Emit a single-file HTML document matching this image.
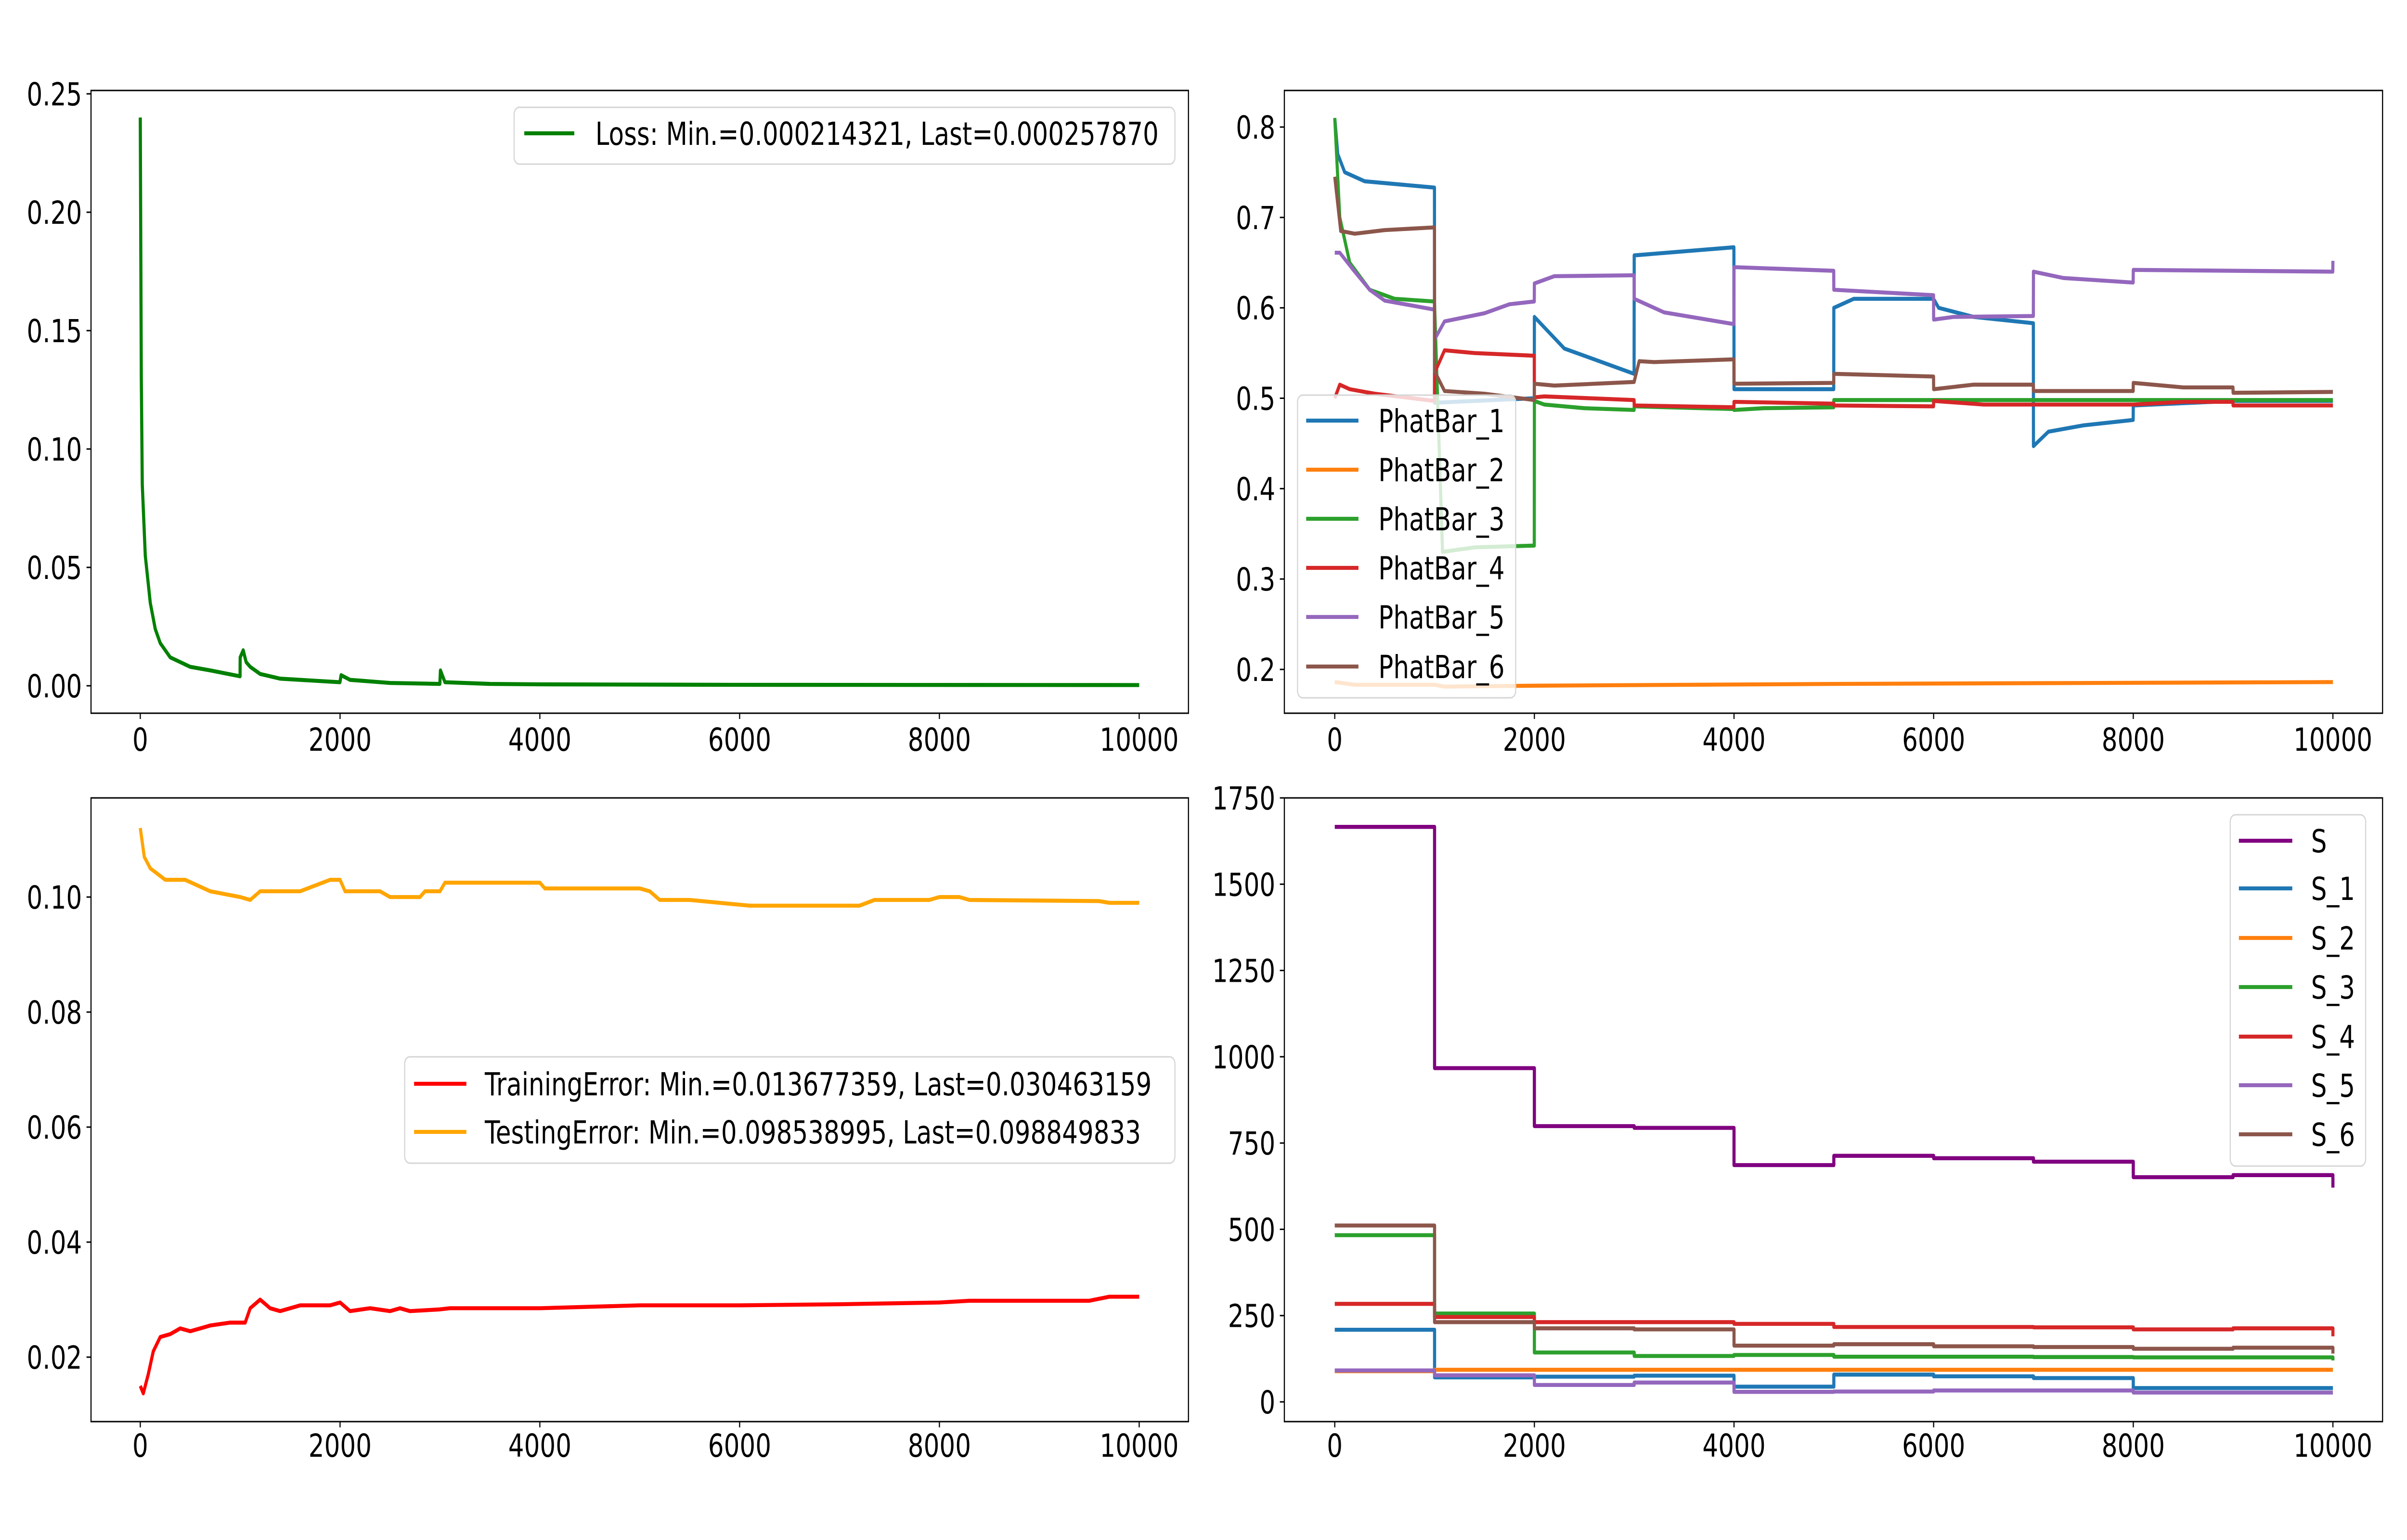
<!DOCTYPE html>
<html><head><meta charset="utf-8">
<style>
html,body{margin:0;padding:0;background:#fff;overflow:hidden;width:100%;height:100%;}
svg{display:block;width:100vw;height:100vh;font-family:"DejaVu Sans","Liberation Sans",sans-serif;}
</style></head>
<body>
<svg id="fig" viewBox="0 0 6400 3200" preserveAspectRatio="none" xmlns="http://www.w3.org/2000/svg"></svg>
<script>
// ---------- data ----------
const xTicks = [0,2000,4000,6000,8000,10000];
const lossX = [0,10,20,50,100,150,200,300,500,700,999,1000,1030,1060,1100,1200,1400,1999,2010,2100,2500,2999,3005,3050,3500,4000,6000,10000];
const lossY = [0.24,0.13,0.085,0.055,0.035,0.024,0.018,0.012,0.008,0.0065,0.004,0.012,0.015,0.010,0.008,0.005,0.003,0.0015,0.0045,0.0025,0.0012,0.0008,0.0065,0.0015,0.0008,0.0006,0.0004,0.0003];
const lossTicks = [0,0.05,0.10,0.15,0.20,0.25];
const lossTickLabels = ["0.00","0.05","0.10","0.15","0.20","0.25"];

const pbTicks = [0.2,0.3,0.4,0.5,0.6,0.7,0.8];
const pbTickLabels = ["0.2","0.3","0.4","0.5","0.6","0.7","0.8"];
const pb1X = [0,30,100,300,999,1000,1999,2000,2300,2999,3000,3999,4000,4999,5000,5200,5999,6050,6400,6999,7000,7150,7500,7999,8000,9000,10000];
const pb1Y = [0.81,0.77,0.75,0.74,0.733,0.495,0.50,0.59,0.555,0.527,0.658,0.667,0.51,0.51,0.60,0.61,0.61,0.60,0.59,0.583,0.447,0.463,0.47,0.476,0.492,0.497,0.497];
const pb2X = [0,200,1000,1100,2000,5000,10000];
const pb2Y = [0.186,0.183,0.183,0.181,0.182,0.184,0.186];
const pb3X = [0,50,150,350,600,999,1080,1400,1999,2000,2100,2500,2999,3000,3999,4000,4300,4999,5000,10000];
const pb3Y = [0.81,0.70,0.65,0.62,0.61,0.607,0.33,0.335,0.337,0.497,0.493,0.489,0.487,0.491,0.488,0.487,0.489,0.490,0.498,0.498];
const pb4X = [0,50,150,400,999,1000,1100,1400,1999,2000,2100,2999,3000,3999,4000,4999,5000,5999,6000,6500,8000,8500,8999,9000,10000];
const pb4Y = [0.50,0.515,0.51,0.505,0.497,0.528,0.553,0.55,0.547,0.501,0.502,0.498,0.492,0.490,0.496,0.494,0.492,0.491,0.497,0.493,0.493,0.496,0.496,0.492,0.492];
const pb5X = [0,50,200,350,500,999,1000,1100,1500,1750,1999,2000,2200,2999,3000,3300,3999,4000,4999,5000,5999,6000,6200,6999,7000,7300,7999,8000,9999,10000];
const pb5Y = [0.661,0.661,0.64,0.62,0.608,0.598,0.565,0.585,0.594,0.604,0.607,0.627,0.635,0.636,0.61,0.595,0.582,0.645,0.641,0.62,0.614,0.587,0.59,0.591,0.64,0.633,0.628,0.642,0.64,0.652];
const pb6X = [0,60,200,500,999,1000,1100,1500,1999,2000,2200,2999,3050,3200,3999,4000,4999,5000,5999,6000,6400,6999,7000,7999,8000,8500,8999,9000,10000];
const pb6Y = [0.745,0.685,0.682,0.686,0.689,0.53,0.508,0.505,0.498,0.516,0.514,0.518,0.541,0.54,0.543,0.516,0.517,0.527,0.524,0.51,0.515,0.515,0.508,0.508,0.517,0.512,0.512,0.506,0.507];

const errTicks = [0.02,0.04,0.06,0.08,0.10];
const errTickLabels = ["0.02","0.04","0.06","0.08","0.10"];
const testX = [0,40,100,250,450,700,1000,1100,1200,1600,1750,1900,2000,2050,2400,2500,2800,2850,3000,3050,4000,4050,5000,5100,5200,5500,5800,6100,7000,7200,7350,7900,8000,8200,8300,9600,9700,10000];
const testY = [0.112,0.107,0.105,0.103,0.103,0.101,0.100,0.0995,0.101,0.101,0.102,0.103,0.103,0.101,0.101,0.100,0.100,0.101,0.101,0.1025,0.1025,0.1015,0.1015,0.101,0.0995,0.0995,0.099,0.0985,0.0985,0.0985,0.0995,0.0995,0.100,0.100,0.0995,0.0993,0.099,0.099];
const trainX = [0,30,80,130,200,300,400,500,600,700,900,1050,1100,1200,1300,1400,1600,1900,2000,2100,2300,2500,2600,2700,3000,3100,4000,5000,6000,7000,8000,8300,9500,9700,10000];
const trainY = [0.015,0.0137,0.017,0.021,0.0235,0.024,0.025,0.0245,0.025,0.0255,0.026,0.026,0.0285,0.030,0.0285,0.028,0.029,0.029,0.0295,0.028,0.0285,0.028,0.0285,0.028,0.0283,0.0285,0.0285,0.029,0.029,0.0292,0.0295,0.0298,0.0298,0.0305,0.0305];

const sTicks = [0,250,500,750,1000,1250,1500,1750];
const sTickLabels = ["0","250","500","750","1000","1250","1500","1750"];
const segStarts = [0,1000,2000,3000,4000,5000,6000,7000,8000,9000];
const sVals  = [1666,967,799,794,686,713,706,696,651,657];
const s1Vals = [209,71,73,76,44,79,74,69,40,40];
const s2Vals = [89,93,93,93,93,93,93,93,93,93];
const s3Vals = [483,256,143,133,136,131,131,130,129,129];
const s4Vals = [284,246,231,231,226,217,217,216,210,213];
const s5Vals = [91,77,49,56,29,30,33,33,27,27];
const s6Vals = [511,231,213,210,163,167,161,159,154,157];
const sEnd   = [621,40,120,190,27,140];

// ---------- drawing ----------
const NS = "http://www.w3.org/2000/svg";
const fig = document.getElementById('fig');
const LW = 8.3, FS = 66;
function mk(tag, attrs, parent){const e=document.createElementNS(NS,tag);for(const k in attrs)e.setAttribute(k,attrs[k]);(parent||fig).appendChild(e);return e;}
function lin(d0,d1,r0,r1){return v=>r0+(v-d0)*(r1-r0)/(d1-d0);}

function makeAxes(name, box, xs, ys, yTicks, yLabels, tickBase){
  const g = mk('g',{});
  
  
  const frame = mk('rect',{x:box.l,y:box.t,width:box.r-box.l,height:box.b-box.t,fill:'none',stroke:'#000','stroke-width':3},g);
  
  
  xTicks.forEach(v=>{
    const x=xs(v);
    const tk = mk('line',{x1:x,x2:x,y1:box.b,y2:box.b+12,stroke:'#000','stroke-width':3},g);
    
    
    const t = mk('text',{x:x,y:tickBase,'font-size':FS,'text-anchor':'middle',fill:'#000'},g);
    t.textContent=String(v);
    
    
  });
  yTicks.forEach((v,i)=>{
    const y=ys(v);
    const tk = mk('line',{x1:box.l-12,x2:box.l,y1:y,y2:y,stroke:'#000','stroke-width':3},g);
    
    
    const t = mk('text',{x:box.l-24,y:y+24,'font-size':FS,'text-anchor':'end',fill:'#000'},g);
    t.textContent=yLabels[i];
    
    
  });
  return g;
}
function line(name, X, Y, xs, ys, color, g){
  const pts = X.map((x,i)=>xs(x).toFixed(1)+','+ys(Y[i]).toFixed(1)).join(' ');
  const p = mk('polyline',{points:pts,fill:'none',stroke:color,'stroke-width':LW,'stroke-linejoin':'round','stroke-linecap':'butt'},g);
  
  
}
function stepLine(name, vals, end, xs, ys, color, g){
  const X=[],Y=[];
  vals.forEach((v,i)=>{X.push(segStarts[i]);Y.push(v);X.push(i<vals.length-1?segStarts[i+1]:10000);Y.push(v);});
  X.push(10000);Y.push(end);
  line(name,X,Y,xs,ys,color,g);
}
function legend(name, box, items, g){
  const lg = mk('g',{},g);
  
  
  const r = mk('rect',{x:box.x,y:box.y,width:box.w,height:box.h,rx:14,fill:'#fff','fill-opacity':0.8,stroke:'#d6d6d6','stroke-width':3},lg);
  
  
  items.forEach(it=>{
    const e = mk('g',{},lg);
    
    
    mk('line',{x1:box.hx0,x2:box.hx1,y1:it.y,y2:it.y,stroke:it.c,'stroke-width':LW},e);
    const t = mk('text',{x:box.tx,y:it.y+24,'font-size':FS,fill:'#000'},e);
    t.textContent=it.label;
  });
}

// Top-left: loss
{
  const box={l:242,r:3160,t:188,b:1482};
  const xs=lin(0,10000,373,3029), ys=lin(0,0.25,1425,195);
  const g=makeAxes('loss-axes',box,xs,ys,lossTicks,lossTickLabels,1560);
  line('loss-line',lossX,lossY,xs,ys,'#008000',g);
  legend('loss-legend',{x:1367,y:223,w:1757,h:118,hx0:1394,hx1:1527,tx:1583},[{y:277,c:'#008000',label:'Loss: Min.=0.000214321, Last=0.000257870'}],g);
}
// Top-right: PhatBar
{
  const box={l:3415,r:6335,t:188,b:1482};
  const xs=lin(0,10000,3549,6203), ys=lin(0.2,0.8,1391,264);
  const g=makeAxes('phatbar-axes',box,xs,ys,pbTicks,pbTickLabels,1560);
  const cols=['#1f77b4','#ff7f0e','#2ca02c','#d62728','#9467bd','#8c564b'];
  line('phatbar-1-line',pb1X,pb1Y,xs,ys,cols[0],g);
  line('phatbar-2-line',pb2X,pb2Y,xs,ys,cols[1],g);
  line('phatbar-3-line',pb3X,pb3Y,xs,ys,cols[2],g);
  line('phatbar-4-line',pb4X,pb4Y,xs,ys,cols[3],g);
  line('phatbar-5-line',pb5X,pb5Y,xs,ys,cols[4],g);
  line('phatbar-6-line',pb6X,pb6Y,xs,ys,cols[5],g);
  const ly=[874,976,1078,1180,1282,1385];
  legend('phatbar-legend',{x:3450,y:821,w:580,h:629,hx0:3473,hx1:3612,tx:3665},
    ly.map((y,i)=>({y:y,c:cols[i],label:'PhatBar_'+(i+1)})),g);
}
// Bottom-left: errors
{
  const box={l:242,r:3160,t:1658,b:2954};
  const xs=lin(0,10000,373,3029), ys=lin(0.02,0.10,2820,1864);
  const g=makeAxes('error-axes',box,xs,ys,errTicks,errTickLabels,3027);
  line('training-error-line',trainX,trainY,xs,ys,'#ff0000',g);
  line('testing-error-line',testX,testY,xs,ys,'#ffa500',g);
  legend('error-legend',{x:1076,y:2196,w:2048,h:221,hx0:1101,hx1:1240,tx:1289},[
    {y:2252,c:'#ff0000',label:'TrainingError: Min.=0.013677359, Last=0.030463159'},
    {y:2352,c:'#ffa500',label:'TestingError: Min.=0.098538995, Last=0.098849833'}],g);
}
// Bottom-right: S
{
  const box={l:3415,r:6335,t:1658,b:2954};
  const xs=lin(0,10000,3549,6203), ys=lin(0,1750,2913,1658);
  const g=makeAxes('s-axes',box,xs,ys,sTicks,sTickLabels,3027);
  const cols=['#800080','#1f77b4','#ff7f0e','#2ca02c','#d62728','#9467bd','#8c564b'];
  stepLine('s-line',sVals,sEnd[0],xs,ys,cols[0],g);
  stepLine('s1-line',s1Vals,sEnd[1],xs,ys,cols[1],g);
  stepLine('s2-line',s2Vals,s2Vals[9],xs,ys,cols[2],g);
  stepLine('s3-line',s3Vals,sEnd[2],xs,ys,cols[3],g);
  stepLine('s4-line',s4Vals,sEnd[3],xs,ys,cols[4],g);
  stepLine('s5-line',s5Vals,sEnd[4],xs,ys,cols[5],g);
  stepLine('s6-line',s6Vals,sEnd[5],xs,ys,cols[6],g);
  const labels=['S','S_1','S_2','S_3','S_4','S_5','S_6'];
  const ly=[1747,1846,1949,2051,2154,2255,2357];
  legend('s-legend',{x:5930,y:1693,w:360,h:730,hx0:5953,hx1:6095,tx:6145},
    ly.map((y,i)=>({y:y,c:cols[i],label:labels[i]})),g);
}
</script>
</body></html>
